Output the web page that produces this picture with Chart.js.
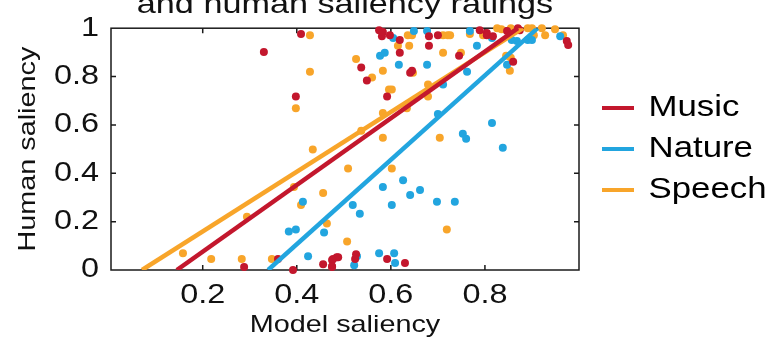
<!DOCTYPE html>
<html>
<head>
<meta charset="utf-8">
<script src="https://cdn.jsdelivr.net/npm/chart.js@4/dist/chart.umd.min.js"></script>
<style>
  html, body { margin: 0; padding: 0; background: #fff; }
  #wrap { width: 765px; height: 343px; }
</style>
</head>
<body>
<div id="wrap"><canvas id="chart" width="765" height="343"></canvas></div>
<script>
// categories and per-category ratings (model saliency, human saliency)
const categories = ['Music', 'Nature', 'Speech'];

const musicPoints = [
  [0.409, 0.976], [0.330, 0.902], [0.398, 0.718], [0.360, 0.045], [0.288, 0.012],
  [0.392, 0.000], [0.456, 0.024], [0.475, 0.012], [0.477, 0.045], [0.488, 0.053],
  [0.592, 0.045], [0.630, 0.029], [0.526, 0.065], [0.524, 0.045], [0.485, 0.053],
  [0.475, 0.041], [0.475, 0.016], [0.575, 0.992], [0.581, 0.967], [0.598, 0.971],
  [0.583, 0.984], [0.619, 0.951], [0.619, 0.898], [0.681, 0.967], [0.681, 0.927],
  [0.700, 0.971], [0.641, 0.816], [0.645, 0.824], [0.537, 0.837], [0.549, 0.784],
  [0.592, 0.718], [0.745, 0.886], [0.789, 0.992], [0.804, 0.980], [0.804, 0.971],
  [0.817, 0.967], [0.847, 0.988], [0.870, 1.000], [0.874, 0.992], [0.860, 0.861],
  [0.974, 0.947], [0.977, 0.931]
];

const naturePoints = [
  [0.413, 0.282], [0.383, 0.159], [0.398, 0.167], [0.458, 0.155], [0.424, 0.057],
  [0.838, 0.506], [0.626, 0.371], [0.583, 0.343], [0.662, 0.331], [0.641, 0.310],
  [0.698, 0.282], [0.736, 0.282], [0.519, 0.269], [0.602, 0.269], [0.534, 0.233],
  [0.575, 0.069], [0.607, 0.069], [0.609, 0.029], [0.528, 0.057], [0.522, 0.020],
  [0.605, 0.959], [0.649, 0.988], [0.677, 0.988], [0.577, 0.886], [0.587, 0.898],
  [0.617, 0.849], [0.677, 0.849], [0.711, 0.767], [0.762, 0.820], [0.700, 0.645],
  [0.753, 0.563], [0.760, 0.543], [0.815, 0.608], [0.768, 0.988], [0.783, 0.927],
  [0.815, 0.959], [0.857, 0.951], [0.868, 0.947], [0.847, 0.849], [0.891, 0.951],
  [0.900, 0.951], [0.960, 0.967]
];

const speechPoints = [
  [0.428, 0.971], [0.428, 0.820], [0.398, 0.669], [0.434, 0.498], [0.509, 0.420],
  [0.456, 0.318], [0.409, 0.269], [0.394, 0.343], [0.294, 0.220], [0.464, 0.192],
  [0.507, 0.118], [0.158, 0.069], [0.218, 0.045], [0.283, 0.045], [0.347, 0.045],
  [0.602, 0.420], [0.719, 0.167], [0.615, 0.927], [0.636, 0.971], [0.645, 0.971],
  [0.639, 0.927], [0.711, 0.971], [0.721, 0.971], [0.726, 0.971], [0.711, 0.898],
  [0.526, 0.873], [0.583, 0.824], [0.647, 0.816], [0.560, 0.796], [0.596, 0.747],
  [0.602, 0.747], [0.679, 0.767], [0.679, 0.718], [0.749, 0.898], [0.583, 0.649],
  [0.634, 0.669], [0.537, 0.576], [0.583, 0.547], [0.704, 0.547], [0.768, 0.976],
  [0.796, 0.971], [0.826, 1.000], [0.835, 0.996], [0.855, 1.000], [0.891, 1.000],
  [0.900, 1.000], [0.921, 1.000], [0.949, 0.996], [0.845, 0.886], [0.855, 0.878],
  [0.853, 0.824], [0.904, 0.971], [0.928, 0.971], [0.966, 0.971]
];

// fitted lines, from where they leave y = 0 to where they reach y = 1
const musicFit = [[0.145, 0], [0.870, 1]];
const natureFit = [[0.339, 0], [0.912, 1]];
const speechFit = [[0.071, 0], [0.881, 1]];

const xTicks = [0.2, 0.4, 0.6, 0.8];
const yTicks = [0, 0.2, 0.4, 0.6, 0.8, 1];

const colors = ['#c3172d', '#22a5df', '#f8a52a'];
const ink = '#111';

Chart.defaults.font.family = "'Liberation Sans', Arial, sans-serif";
Chart.defaults.color = ink;

const toXY = arr => arr.map(([x, y]) => ({ x, y }));
const pointSets = [musicPoints, naturePoints, speechPoints];
const fitSets = [musicFit, natureFit, speechFit];

const datasets = [];
categories.forEach((name, i) => {
  datasets.push({
    label: name,
    data: toXY(fitSets[i]),
    showLine: true,
    borderColor: colors[i],
    backgroundColor: colors[i],
    borderWidth: 4.5,
    pointRadius: 0,
    order: 1
  });
});
categories.forEach((name, i) => {
  datasets.push({
    label: name + ' points',
    data: toXY(pointSets[i]),
    pointRadius: 4,
    pointBorderWidth: 0,
    backgroundColor: colors[i],
    clip: false,
    order: 2
  });
});

// the lettering in this figure is a wide face: stretch every string along
// its own baseline, around its anchor point, so alignment still holds;
// measureText is scaled the same way so the layout sees the real widths
const widen = 1.2;
const wideText = {
  id: 'wideText',
  beforeInit(chart) {
    const ctx = chart.ctx;
    const fill = ctx.fillText.bind(ctx);
    const measure = ctx.measureText.bind(ctx);
    ctx.fillText = (text, x, y) => {
      ctx.save();
      ctx.translate(x, y);
      ctx.scale(widen, 1);
      fill(text, 0, 0);
      ctx.restore();
    };
    ctx.measureText = text => {
      const m = measure(text);
      return {
        width: m.width * widen,
        actualBoundingBoxAscent: m.actualBoundingBoxAscent,
        actualBoundingBoxDescent: m.actualBoundingBoxDescent
      };
    };
  }
};

// box around the plot with inward tick marks on all four sides
const frame = {
  id: 'frame',
  beforeDatasetsDraw(chart) {
    const { ctx, chartArea: a, scales: { x, y } } = chart;
    const len = 5;
    ctx.save();
    ctx.strokeStyle = '#1a1a1a';
    ctx.lineWidth = 1.5;
    ctx.strokeRect(a.left, a.top, a.right - a.left, a.bottom - a.top);
    ctx.beginPath();
    xTicks.forEach(v => {
      const px = x.getPixelForValue(v);
      ctx.moveTo(px, a.bottom); ctx.lineTo(px, a.bottom - len);
      ctx.moveTo(px, a.top); ctx.lineTo(px, a.top + len);
    });
    yTicks.slice(1, -1).forEach(v => {
      const py = y.getPixelForValue(v);
      ctx.moveTo(a.left, py); ctx.lineTo(a.left + len, py);
      ctx.moveTo(a.right, py); ctx.lineTo(a.right - len, py);
    });
    ctx.stroke();
    ctx.restore();
  }
};

const fmt = v => (Number.isInteger(v) ? String(v) : v.toFixed(1));

new Chart(document.getElementById('chart'), {
  type: 'scatter',
  data: { datasets },
  plugins: [wideText, frame],
  options: {
    responsive: false,
    animation: false,
    devicePixelRatio: 1,
    layout: { padding: 0 },
    scales: {
      x: {
        type: 'linear',
        position: 'bottom',
        min: 0.005,
        max: 1,
        afterBuildTicks: s => { s.ticks = xTicks.map(value => ({ value })); },
        afterFit: s => { s.height = 73; },
        grid: { display: false, drawTicks: false },
        border: { display: false },
        ticks: { font: { size: 27 }, padding: 9, maxRotation: 0, autoSkip: false, callback: fmt },
        title: { display: true, text: 'Model saliency', font: { size: 24 }, padding: { top: 3, bottom: 3 } }
      },
      y: {
        type: 'linear',
        position: 'left',
        min: 0,
        max: 1,
        afterBuildTicks: s => { s.ticks = yTicks.map(value => ({ value })); },
        afterFit: s => { s.width = 111; },
        grid: { display: false, drawTicks: false },
        border: { display: false },
        ticks: { font: { size: 27 }, padding: 12, callback: fmt },
        title: { display: true, text: 'Human saliency', font: { size: 24 }, padding: { top: 14, bottom: 14 } }
      },
      // empty right-hand axis: keeps the legend clear of the frame
      gap: {
        type: 'linear',
        axis: 'y',
        position: 'right',
        afterFit: s => { s.width = 11; },
        grid: { display: false, drawTicks: false },
        border: { display: false },
        ticks: { display: false }
      }
    },
    plugins: {
      title: {
        display: true,
        text: 'and human saliency ratings',
        fullSize: false,
        color: ink,
        font: { size: 28.5, weight: 'normal' },
        padding: { top: -14.5, bottom: 6 }
      },
      legend: {
        position: 'right',
        fullSize: false,
        maxWidth: 175,
        labels: {
          boxWidth: 32,
          boxHeight: 4,
          padding: 12,
          color: ink,
          font: { size: 29 },
          generateLabels: () => categories.map((text, i) => ({
            text,
            fillStyle: colors[i],
            strokeStyle: colors[i],
            lineWidth: 0,
            datasetIndex: i
          }))
        }
      },
      tooltip: { enabled: false }
    }
  }
});
</script>
</body>
</html>
